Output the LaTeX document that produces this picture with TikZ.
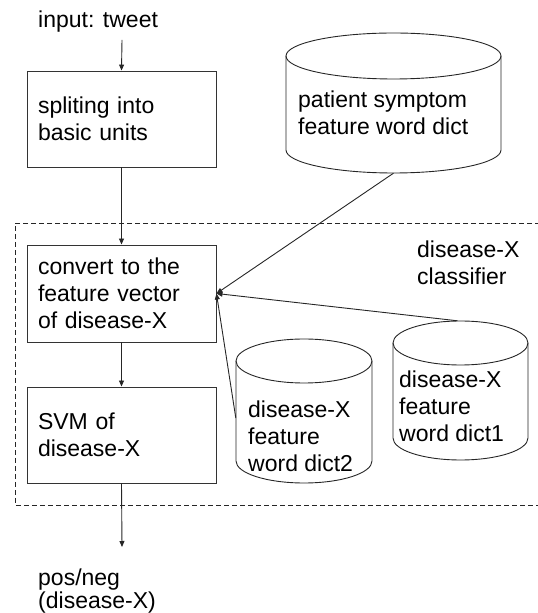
\documentclass[tikz,border=0pt]{standalone}
\usepackage{fontspec}
\setmainfont{Liberation Sans}
\usetikzlibrary{arrows.meta,calc}
\tikzset{
  txt/.style={font=\fontsize{23}{27}\selectfont},
  proc/.style={txt, draw=black!80, line width=0.9pt, minimum width=189pt,
    text width=167pt, inner xsep=11pt, align=left},
  lbl/.style={txt, align=left, inner sep=0pt},
  cylline/.style={draw=black!85, line width=0.9pt},
  conn/.style={draw=black!85, line width=0.9pt, -{Triangle[length=6pt,width=5pt]}},
  frame/.style={draw=black!85, line width=0.8pt, dash pattern=on 5pt off 3pt}
}
% name, x left, x right, y top, y bottom, ellipse y radius
\newcommand\dbcyl[6]{%
  \node[inner sep=0pt, minimum width={(#3-#2)*1pt}, minimum height={(#4-#5)*1pt}]
    (#1) at ({(#2+#3)/2},{(#4+#5)/2}) {};
  \draw[cylline] ({(#2+#3)/2},{#4-#6}) ellipse [x radius={(#3-#2)/2*1pt}, y radius={#6*1pt}];
  \draw[cylline] (#2,{#4-#6}) -- (#2,{#5+#6})
    arc[start angle=180, end angle=360, x radius={(#3-#2)/2*1pt}, y radius={#6*1pt}]
    -- (#3,{#4-#6});
}
\begin{document}
\begin{tikzpicture}[x=1pt,y=1pt]
\useasboundingbox (0,0) rectangle (538,613);

% dashed classifier frame (right side runs off the picture)
\draw[frame] (540,390) -- (15,390) -- (15,108) -- (540,108);

% process boxes
\node[proc, minimum height=96pt] (split) at (121.5,494) {spliting into\\basic units};
\node[proc, minimum height=97pt] (conv) at (121.5,319.5) {convert to the\\feature vector\\of disease-X};
\node[proc, minimum height=96pt] (svm) at (121.5,178) {SVM of\\disease-X};

% input / output
\node[lbl, anchor=base west] (inp) at (38,585) {input: tweet};
\coordinate (inTop) at (122,573);
\coordinate (outEnd) at (122,66);
\node[lbl, anchor=base west, font=\fontsize{23}{23}\selectfont] (outp) at (38,5) {pos/neg\\(disease-X)};

% cylinders
\dbcyl{pd}{286}{501}{580}{440}{23}
\node[lbl, anchor=base west] (pdt) at (298,478) {patient symptom\\feature word dict};
\dbcyl{dOne}{393}{528}{292}{153}{22}
\node[lbl, anchor=base west] (dOnet) at (399,171) {disease-X\\feature\\word dict1};
\dbcyl{dTwo}{236}{372}{274}{130}{22}
\node[lbl, anchor=base west] (dTwot) at (248,141) {disease-X\\feature\\word dict2};

% classifier label
\node[lbl, anchor=base west] (cls) at (417,328) {disease-X\\classifier};

% connectors
\draw[conn] (inTop) -- (split.north);
\draw[conn] (split.south) -- (conv.north);
\draw[conn] (conv.south) -- (svm.north);
\draw[conn] (svm.south) -- (outEnd);
\draw[conn] (pd.south) -- (conv.east);
\draw[conn] ([xshift=-3pt]dOne.north) -- (conv.east);
\draw[conn] ([yshift=-7pt]dTwo.west) -- (conv.east);
\end{tikzpicture}
\end{document}
